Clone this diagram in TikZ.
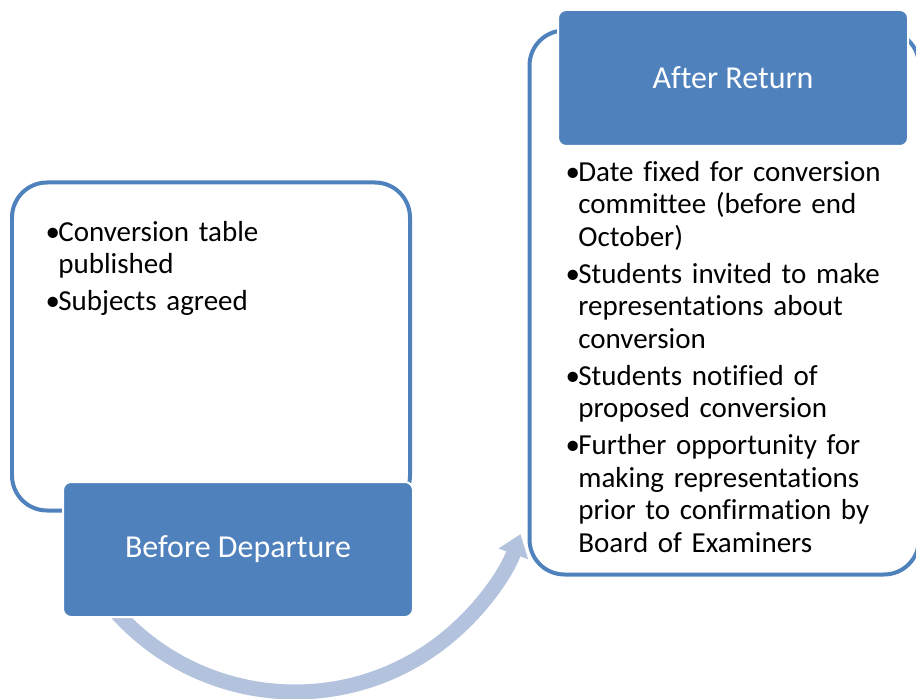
\documentclass[tikz,border=0pt]{standalone}
\usepackage{fontspec}
\setmainfont{Carlito}[Ligatures=NoCommon]
\usetikzlibrary{fit}
\usetikzlibrary{arrows.meta}

\definecolor{boxblue}{RGB}{79,129,189}
\definecolor{arrowblue}{RGB}{179,194,221}

\newcommand{\bpoint}[1]{\par\noindent\makebox[0.38em][l]{\hspace{-0.06em}\textbullet}\begin{tabular}[t]{@{}l@{}}#1\end{tabular}}

\begin{document}
\begin{tikzpicture}[x=0.02cm, y=-0.02cm,
   frame/.style={draw=boxblue, fill=white, line width=0.08cm, rounded corners=0.7cm, inner sep=0pt},
   phase/.style={draw=white, line width=0.04cm, fill=boxblue, rounded corners=0.16cm, inner sep=0pt},
   title/.style={text=white, inner sep=0pt, font=\fontsize{18.2}{20}\selectfont},
   bullets/.style={anchor=north west, inner sep=0pt, align=left, text width=#1, font=\fontsize{16.5}{18.5}\selectfont, execute at begin node={\setlength{\parskip}{1.5pt}}},
   cyclearrow/.style={draw=arrowblue, line width=0.3cm, -{Triangle[length=0.42cm, width=0.6cm]}}]
   \useasboundingbox (0,0) rectangle (916,699);
   \clip (0,0) rectangle (916,699);
   % the arc from one phase to the other
   \draw[cyclearrow] (295,452) ++(140:240) coordinate (arcstart) arc[start angle=140, end angle=20, radius=240] coordinate (arctip);
   % outlined boxes
   \node[frame, fit={(12,182.5) (410,510.5)}] (beforeframe) {};
   \node[frame, fit={(529.5,30.5) (919,574.5)}] (afterframe) {};
   \node[bullets=6.9cm] (beforelist) at (47,206) {%
      \bpoint{Conversion table\\published}
      \bpoint{Subjects agreed}};
   \node[bullets=7cm] (afterlist) at (567,146) {%
      \bpoint{Date fixed for conversion\\committee (before end\\October)}
      \bpoint{Students invited to make\\representations about\\conversion}
      \bpoint{Students notified of\\proposed conversion}
      \bpoint{Further opportunity for\\making representations\\prior to confirmation by\\Board of Examiners}};
   % filled titles
   \node[phase, fit={(63,482) (413,617)}] (before) {};
   \node[title] (beforetitle) at (before.center) {Before Departure};
   \node[phase, fit={(558,10) (908,146)}] (after) {};
   \node[title] (aftertitle) at (after.center) {After Return};
\end{tikzpicture}
\end{document}
